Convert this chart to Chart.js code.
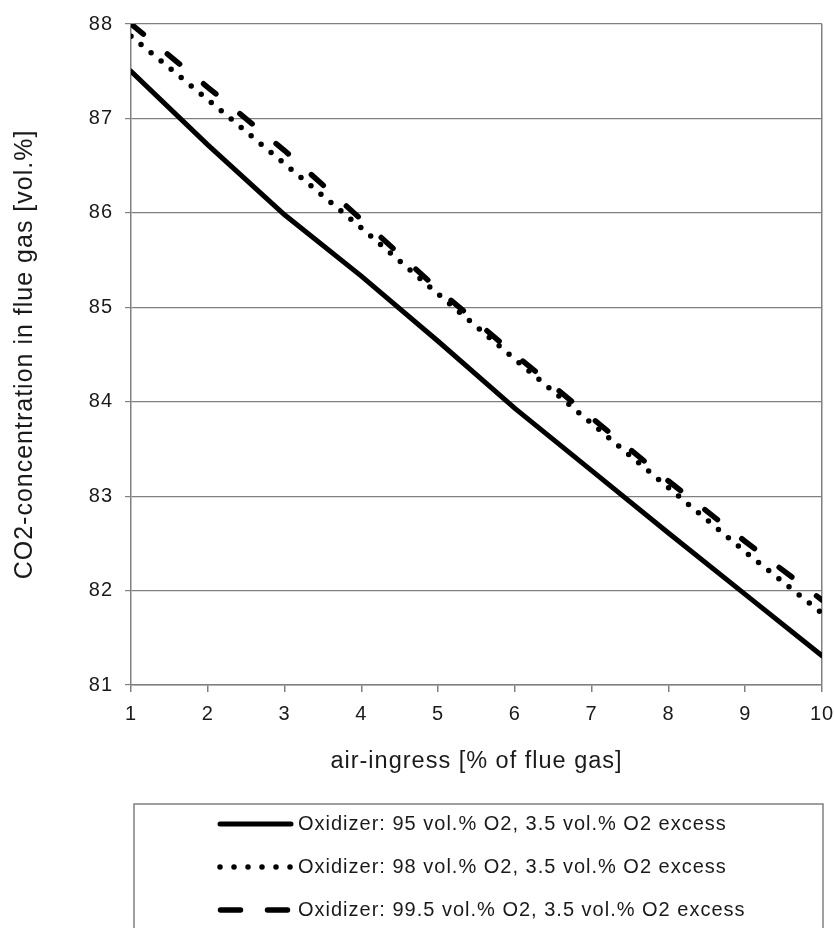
<!DOCTYPE html>
<html>
<head>
<meta charset="utf-8">
<script src="https://cdn.jsdelivr.net/npm/chart.js@4"></script>
<style>
  html, body { margin: 0; padding: 0; background: #fff; }
  canvas { display: block; }
</style>
</head>
<body>
<canvas id="myChart" width="834" height="928"></canvas>
<script>
// air-ingress [% of flue gas]
const airIngress = [1, 2, 3, 4, 5, 6, 7, 8, 9, 10];

// CO2 concentration [vol.%]
const co2_95 = [87.5, 86.72, 85.98, 85.33, 84.64, 83.93, 83.27, 82.61, 81.96, 81.31];
const co2_98 = [87.87, 87.2, 86.52, 85.84, 85.14, 84.45, 83.77, 83.09, 82.41, 81.76];
const co2_995 = [88.0, 87.33, 86.66, 85.93, 85.19, 84.5, 83.83, 83.16, 82.52, 81.9];

const seriesLabels = [
    'Oxidizer: 95 vol.% O2, 3.5 vol.% O2 excess',
    'Oxidizer: 98 vol.% O2, 3.5 vol.% O2 excess',
    'Oxidizer: 99.5 vol.% O2, 3.5 vol.% O2 excess'
];

const yTicks = [81, 82, 83, 84, 85, 86, 87, 88];

const textColor = '#1a1a1a';
const gridColor = '#808080';
const fontFamily = '"Liberation Sans", Arial, sans-serif';

const toPoints = (values) => airIngress.map((x, i) => ({ x, y: values[i] }));

// text in the original is a bit wide, spread the letters a little
const letterSpacing = {
    id: 'letterSpacing',
    beforeDraw(chart) {
        chart.ctx.letterSpacing = '1px';
    }
};

// boxed legend under the axis title
const legendBox = {
    id: 'legendBox',
    afterDraw(chart) {
        const ctx = chart.ctx;
        ctx.save();
        ctx.strokeStyle = gridColor;
        ctx.lineWidth = 1.5;
        ctx.strokeRect(134, 804, 689, 160);

        chart.data.datasets.forEach((ds, i) => {
            const y = 824 + i * 43;
            ctx.beginPath();
            ctx.setLineDash(ds.legendDash);
            ctx.lineCap = 'round';
            ctx.lineWidth = ds.borderWidth;
            ctx.strokeStyle = ds.borderColor;
            ctx.moveTo(ds.legendFrom, y);
            ctx.lineTo(ds.legendTo, y);
            ctx.stroke();
            ctx.setLineDash([]);

            ctx.fillStyle = textColor;
            ctx.font = '20px ' + fontFamily;
            ctx.textBaseline = 'middle';
            ctx.textAlign = 'left';
            ctx.fillText(ds.label, 298, y);
        });
        ctx.restore();
    }
};

const datasets = [
    {
        label: seriesLabels[0],
        data: toPoints(co2_95),
        borderColor: '#000',
        borderWidth: 5,
        borderCapStyle: 'round',
        legendDash: [],
        legendFrom: 220,
        legendTo: 291
    },
    {
        label: seriesLabels[1],
        data: toPoints(co2_98),
        borderColor: '#000',
        borderWidth: 5.5,
        borderDash: [0, 13],
        borderCapStyle: 'round',
        legendDash: [0, 14],
        legendFrom: 220,
        legendTo: 291
    },
    {
        label: seriesLabels[2],
        data: toPoints(co2_995),
        borderColor: '#000',
        borderWidth: 5.5,
        borderDash: [16, 31],
        borderCapStyle: 'round',
        legendDash: [20, 27],
        legendFrom: 220.5,
        legendTo: 288.5
    }
];

const config = {
    type: 'line',
    data: { datasets },
    options: {
        responsive: false,
        animation: false,
        devicePixelRatio: 1,
        layout: { padding: { top: 24, right: 12, bottom: 143, left: 0 } },
        elements: { point: { radius: 0 }, line: { tension: 0 } },
        plugins: {
            legend: { display: false },
            tooltip: { enabled: false }
        },
        scales: {
            x: {
                type: 'linear',
                min: 1,
                max: 10,
                afterFit: (scale) => {
                    scale.height = 100;
                    scale.paddingLeft = 0;
                    scale.paddingRight = 0;
                },
                afterBuildTicks: (scale) => { scale.ticks = airIngress.map(v => ({ value: v })); },
                ticks: {
                    color: textColor,
                    font: { family: fontFamily, size: 20 },
                    padding: 10,
                    maxRotation: 0
                },
                grid: {
                    color: (c) => (c.tick && c.tick.value === 10 ? gridColor : 'rgba(0,0,0,0)'),
                    tickColor: gridColor,
                    tickLength: 7,
                    lineWidth: 1.5
                },
                border: { color: gridColor, width: 1.5 },
                title: {
                    display: true,
                    text: 'air-ingress [% of flue gas]',
                    color: textColor,
                    font: { family: fontFamily, size: 23.5 },
                    padding: { top: 0, bottom: 9 }
                }
            },
            y: {
                min: 81,
                max: 88,
                afterFit: (scale) => {
                    scale.width = 131;
                    scale.paddingTop = 0;
                    scale.paddingBottom = 0;
                },
                afterBuildTicks: (scale) => { scale.ticks = yTicks.map(v => ({ value: v })); },
                ticks: {
                    color: textColor,
                    font: { family: fontFamily, size: 20 },
                    padding: 12
                },
                grid: {
                    color: gridColor,
                    tickColor: gridColor,
                    tickLength: 6,
                    lineWidth: 1.2
                },
                border: { color: gridColor, width: 1.5 },
                title: {
                    display: true,
                    text: 'CO2-concentration in flue gas [vol.%]',
                    color: textColor,
                    font: { family: fontFamily, size: 25 },
                    padding: { top: 10, bottom: 0 }
                }
            }
        }
    },
    plugins: [letterSpacing, legendBox]
};

const myCanvaChart = new Chart(document.getElementById('myChart'), config);
</script>
</body>
</html>
